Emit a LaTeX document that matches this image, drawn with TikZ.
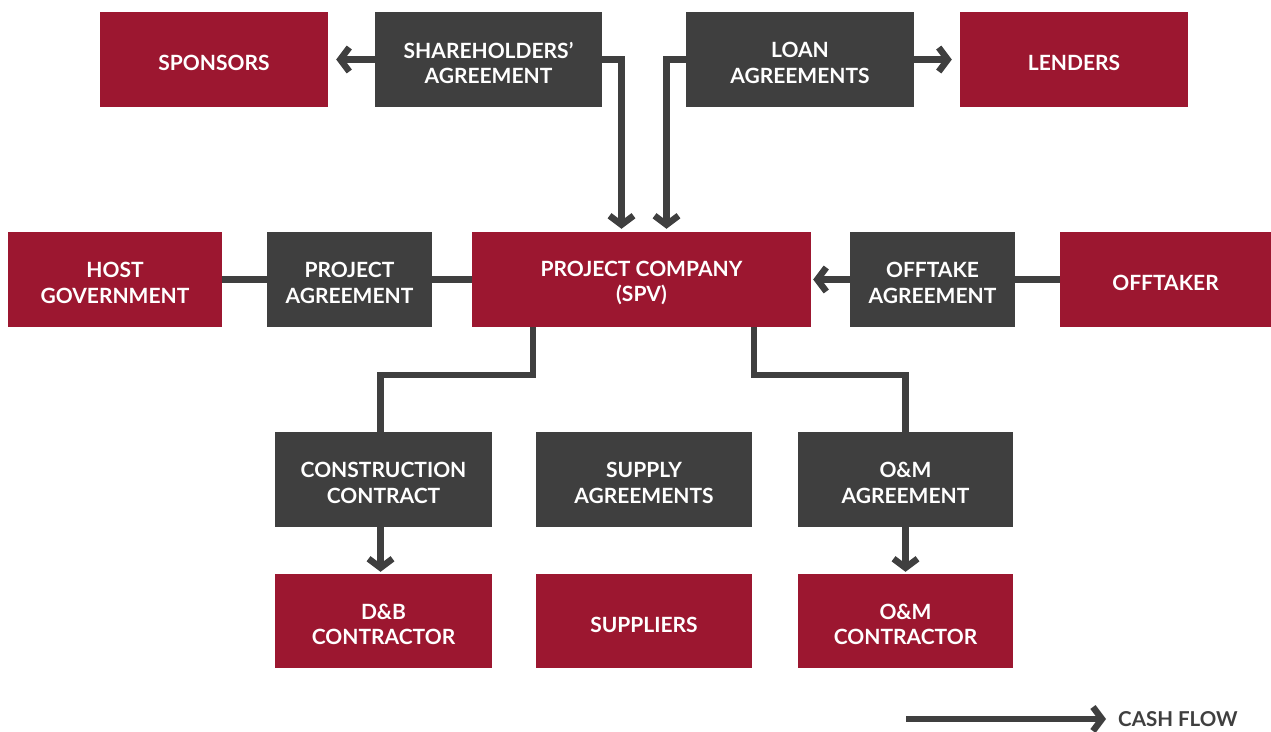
\documentclass[tikz,border=0pt]{standalone}
\usepackage{fontspec}
\setmainfont{Lato}
\usetikzlibrary{arrows.meta}

\definecolor{boxred}{HTML}{9C1730}
\definecolor{boxgray}{HTML}{3F3F3F}

\begin{document}
\begin{tikzpicture}[
    x=1pt, y=-1pt,
    boxtext/.style={text=white, align=center, inner sep=0pt, yshift=-3.5pt,
        font=\fontsize{21}{25.5}\selectfont\bfseries},
    party/.style={fill=boxred, minimum width=228pt, minimum height=95pt,
        inner sep=0pt, label={[boxtext]center:{#1}}}, % red boxes
    contract/.style={party={#1}, fill=boxgray}, % gray boxes
    link/.style={draw=boxgray, line width=6.5pt},
    flow/.style={link, -{Straight Barb[length=9pt, width=24pt]}} % cash flow arrows
]
    \useasboundingbox (0,0) rectangle (1271,731);

    % Top row
    \node[party={SPONSORS}] (sponsors) at (214,59.5) {};
    \node[contract={SHAREHOLDERS'\\AGREEMENT}, minimum width=227pt] (sha) at (488.5,59.5) {};
    \node[contract={LOAN\\AGREEMENTS}] (loan) at (800,59.5) {};
    \node[party={LENDERS}] (lenders) at (1074,59.5) {};

    % Middle row
    \node[party={HOST\\GOVERNMENT}, minimum width=214pt] (host) at (115,279.5) {};
    \node[contract={PROJECT\\AGREEMENT}, minimum width=165pt] (pa) at (349.5,279.5) {};
    \node[party={PROJECT COMPANY\\(SPV)}, minimum width=339pt] (spv) at (641.5,279.5) {};
    \node[contract={OFFTAKE\\AGREEMENT}, minimum width=165pt] (ota) at (932.5,279.5) {};
    \node[party={OFFTAKER}, minimum width=211pt] (offtaker) at (1165.5,279.5) {};

    % Bottom rows
    \node[contract={CONSTRUCTION\\CONTRACT}, minimum width=217pt] (cc) at (383.5,479.5) {};
    \node[contract={SUPPLY\\AGREEMENTS}, minimum width=216pt] (supply) at (644,479.5) {};
    \node[contract={O\&M\\AGREEMENT}, minimum width=215pt] (oma) at (905.5,479.5) {};
    \node[party={D\&B\\CONTRACTOR}, minimum width=217pt, minimum height=94pt] (db) at (383.5,621) {};
    \node[party={SUPPLIERS}, minimum width=216pt, minimum height=94pt] (suppliers) at (644,621) {};
    \node[party={O\&M\\CONTRACTOR}, minimum width=215pt, minimum height=94pt] (omc) at (905.5,621) {};

    % Connectors
    \draw[flow, shorten >=8pt] (sha.west) -- (sponsors.east);
    \draw[flow, shorten >=8pt] (loan.east) -- (lenders.west);
    \draw[flow, shorten >=3pt] (sha.east) -| ([xshift=-20pt]spv.north);
    \draw[flow, shorten >=3pt] (loan.west) -| ([xshift=25pt]spv.north);
    \draw[link] (host.east) -- (pa.west);
    \draw[link] (pa.east) -- (spv.west);
    \draw[link] (offtaker.west) -- (ota.east);
    \draw[flow, shorten >=2pt] (ota.west) -- (spv.east);
    \draw[link] ([xshift=-108.5pt]spv.south) -- ++(0,48) -| ([xshift=-3pt]cc.north);
    \draw[link] ([xshift=112.5pt]spv.south) -- ++(0,48) -| (oma.north);
    \draw[flow, shorten >=2pt] ([xshift=-3pt]cc.south) -- ([xshift=-3pt]db.north);
    \draw[flow, shorten >=2pt] (oma.south) -- (omc.north);

    % Legend
    \coordinate (cfstart) at (906,719);
    \coordinate (cfend) at (1106,719);
    \draw[flow] (cfstart) -- (cfend);
    \node[anchor=west, text=boxgray, inner sep=0pt, font=\fontsize{20.5}{24}\selectfont\bfseries] (cflabel) at (1118,719) {CASH FLOW};
\end{tikzpicture}
\end{document}
